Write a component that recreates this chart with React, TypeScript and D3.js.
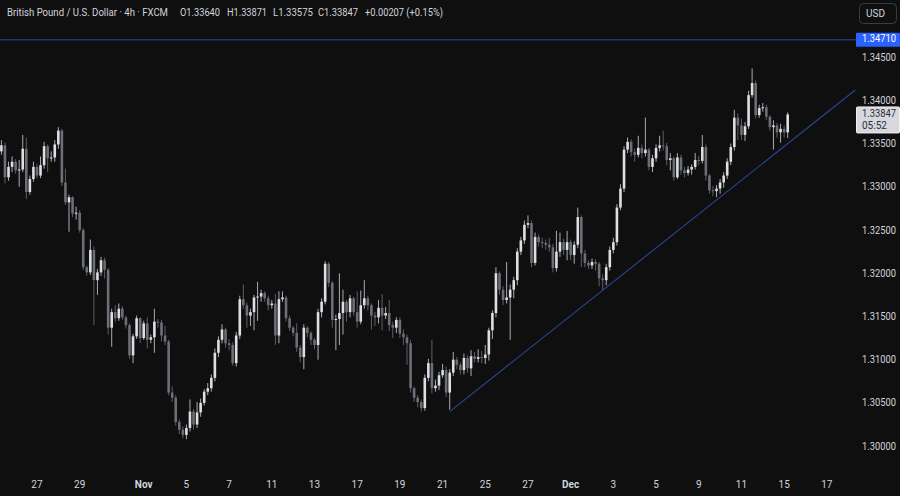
import React from "react";
import * as d3 from "d3";

// ---- Data (GBP/USD 4h, FXCM) ----
const firstOpen = 1.3342;
const closes = [
  1.3349, 1.3312, 1.3324, 1.3330, 1.3320, 1.3321, 1.3345, 1.3295, 1.3310, 1.3324,
  1.3314, 1.3326, 1.3348, 1.3334, 1.3335, 1.3350, 1.3366, 1.3306, 1.3283, 1.3289,
  1.3270, 1.3271, 1.3251, 1.3208, 1.3202, 1.3228, 1.3193, 1.3202, 1.3216, 1.3205,
  1.3138, 1.3156, 1.3149, 1.3160, 1.3150, 1.3141, 1.3106, 1.3128, 1.3149, 1.3126,
  1.3143, 1.3124, 1.3127, 1.3145, 1.3144, 1.3129, 1.3122, 1.3063, 1.3057, 1.3029,
  1.3020, 1.3014, 1.3022, 1.3041, 1.3026, 1.3040, 1.3051, 1.3064, 1.3068, 1.3080,
  1.3109, 1.3124, 1.3136, 1.3120, 1.3118, 1.3097, 1.3129, 1.3171, 1.3164, 1.3152,
  1.3156, 1.3173, 1.3174, 1.3178, 1.3172, 1.3164, 1.3166, 1.3129, 1.3171, 1.3173,
  1.3149, 1.3138, 1.3132, 1.3115, 1.3104, 1.3138, 1.3132, 1.3124, 1.3118, 1.3156,
  1.3168, 1.3212, 1.3190, 1.3147, 1.3148, 1.3155, 1.3168, 1.3156, 1.3172, 1.3156,
  1.3145, 1.3164, 1.3172, 1.3164, 1.3152, 1.3150, 1.3161, 1.3152, 1.3155, 1.3141,
  1.3138, 1.3147, 1.3131, 1.3127, 1.3120, 1.3068, 1.3057, 1.3052, 1.3045, 1.3080,
  1.3097, 1.3068, 1.3071, 1.3083, 1.3089, 1.3063, 1.3086, 1.3101, 1.3095, 1.3089,
  1.3103, 1.3091, 1.3105, 1.3102, 1.3104, 1.3103, 1.3107, 1.3135, 1.3155, 1.3201,
  1.3182, 1.3170, 1.3173, 1.3182, 1.3193, 1.3226, 1.3239, 1.3257, 1.3259, 1.3213,
  1.3243, 1.3237, 1.3236, 1.3234, 1.3231, 1.3207, 1.3226, 1.3237, 1.3228, 1.3237,
  1.3222, 1.3234, 1.3266, 1.3224, 1.3213, 1.3210, 1.3214, 1.3212, 1.3195, 1.3193,
  1.3208, 1.3228, 1.3237, 1.3277, 1.3299, 1.3344, 1.3353, 1.3341, 1.3338, 1.3346,
  1.3340, 1.3344, 1.3324, 1.3334, 1.3346, 1.3349, 1.3348, 1.3332, 1.3334, 1.3312,
  1.3335, 1.3320, 1.3317, 1.3321, 1.3324, 1.3332, 1.3331, 1.3347, 1.3314, 1.3297,
  1.3296, 1.3299, 1.3306, 1.3314, 1.3330, 1.3347, 1.3381, 1.3372, 1.3361, 1.3371,
  1.3407, 1.3421, 1.3384, 1.3392, 1.3393, 1.3382, 1.3370, 1.3372, 1.3364, 1.3368,
  1.3364, 1.33847,
];
const highs = [
  1.3355, 1.3352, 1.3330, 1.3336, 1.3333, 1.3332, 1.3361, 1.3358, 1.3314, 1.3330,
  1.3327, 1.3336, 1.3353, 1.3350, 1.3342, 1.3355, 1.3370, 1.3368, 1.3322, 1.3292,
  1.3290, 1.3278, 1.3274, 1.3253, 1.3210, 1.3240, 1.3232, 1.3206, 1.3220, 1.3219,
  1.3207, 1.3160, 1.3164, 1.3166, 1.3163, 1.3152, 1.3143, 1.3131, 1.3152, 1.3150,
  1.3146, 1.3150, 1.3130, 1.3160, 1.3148, 1.3147, 1.3140, 1.3124, 1.3070, 1.3060,
  1.3032, 1.3024, 1.3026, 1.3055, 1.3044, 1.3052, 1.3056, 1.3067, 1.3074, 1.3084,
  1.3114, 1.3128, 1.3142, 1.3138, 1.3125, 1.3121, 1.3133, 1.3175, 1.3188, 1.3167,
  1.3160, 1.3176, 1.3191, 1.3182, 1.3180, 1.3175, 1.3170, 1.3177, 1.3180, 1.3180,
  1.3175, 1.3152, 1.3140, 1.3143, 1.3118, 1.3142, 1.3140, 1.3134, 1.3126, 1.3160,
  1.3172, 1.3215, 1.3214, 1.3192, 1.3153, 1.3201, 1.3182, 1.3170, 1.3176, 1.3174,
  1.3180, 1.3181, 1.3193, 1.3175, 1.3166, 1.3156, 1.3170, 1.3177, 1.3162, 1.3170,
  1.3145, 1.3150, 1.3150, 1.3136, 1.3130, 1.3124, 1.3070, 1.3060, 1.3055, 1.3084,
  1.3102, 1.3124, 1.3078, 1.3087, 1.3096, 1.3093, 1.3090, 1.3110, 1.3104, 1.3098,
  1.3108, 1.3106, 1.3112, 1.3110, 1.3113, 1.3111, 1.3118, 1.3138, 1.3158, 1.3208,
  1.3203, 1.3186, 1.3214, 1.3188, 1.3197, 1.3230, 1.3243, 1.3262, 1.3268, 1.3262,
  1.3248, 1.3246, 1.3242, 1.3240, 1.3242, 1.3235, 1.3250, 1.3248, 1.3241, 1.3250,
  1.3240, 1.3238, 1.3277, 1.3268, 1.3228, 1.3216, 1.3218, 1.3217, 1.3214, 1.3200,
  1.3212, 1.3232, 1.3242, 1.3281, 1.3304, 1.3348, 1.3358, 1.3356, 1.3345, 1.3360,
  1.3350, 1.3381, 1.3346, 1.3338, 1.3350, 1.3360, 1.3366, 1.3352, 1.3340, 1.3336,
  1.3340, 1.3338, 1.3324, 1.3325, 1.3327, 1.3340, 1.3337, 1.3361, 1.3350, 1.3316,
  1.3302, 1.3303, 1.3310, 1.3318, 1.3334, 1.3351, 1.3390, 1.3386, 1.3380, 1.3376,
  1.3412, 1.3438, 1.3424, 1.3396, 1.3398, 1.3396, 1.3384, 1.3378, 1.3375, 1.3374,
  1.3372, 1.33871,
];
const lows = [
  1.3338, 1.3305, 1.3308, 1.3318, 1.3316, 1.3301, 1.3318, 1.3287, 1.3292, 1.3307,
  1.3311, 1.3311, 1.3322, 1.3318, 1.3330, 1.3330, 1.3345, 1.3302, 1.3280, 1.3249,
  1.3266, 1.3263, 1.3248, 1.3205, 1.3198, 1.3199, 1.3141, 1.3176, 1.3198, 1.3195,
  1.3130, 1.3116, 1.3145, 1.3146, 1.3147, 1.3137, 1.3102, 1.3097, 1.3125, 1.3120,
  1.3124, 1.3114, 1.3120, 1.3109, 1.3138, 1.3122, 1.3118, 1.3060, 1.3052, 1.3025,
  1.3015, 1.3010, 1.3009, 1.3018, 1.3020, 1.3022, 1.3035, 1.3048, 1.3060, 1.3064,
  1.3076, 1.3104, 1.3120, 1.3115, 1.3112, 1.3094, 1.3093, 1.3125, 1.3160, 1.3138,
  1.3140, 1.3135, 1.3146, 1.3168, 1.3168, 1.3158, 1.3160, 1.3118, 1.3120, 1.3168,
  1.3145, 1.3134, 1.3128, 1.3110, 1.3098, 1.3090, 1.3127, 1.3118, 1.3113, 1.3101,
  1.3150, 1.3165, 1.3185, 1.3138, 1.3112, 1.3118, 1.3130, 1.3145, 1.3150, 1.3152,
  1.3138, 1.3142, 1.3160, 1.3158, 1.3136, 1.3140, 1.3143, 1.3135, 1.3148, 1.3134,
  1.3126, 1.3132, 1.3126, 1.3118, 1.3095, 1.3063, 1.3052, 1.3046, 1.3041, 1.3042,
  1.3076, 1.3062, 1.3064, 1.3066, 1.3080, 1.3058, 1.3043, 1.3082, 1.3090, 1.3084,
  1.3084, 1.3086, 1.3082, 1.3098, 1.3098, 1.3097, 1.3096, 1.3100, 1.3125, 1.3150,
  1.3176, 1.3164, 1.3166, 1.3124, 1.3172, 1.3187, 1.3222, 1.3235, 1.3253, 1.3208,
  1.3210, 1.3232, 1.3230, 1.3228, 1.3226, 1.3202, 1.3203, 1.3220, 1.3222, 1.3216,
  1.3216, 1.3212, 1.3230, 1.3208, 1.3208, 1.3206, 1.3206, 1.3204, 1.3186, 1.3181,
  1.3187, 1.3204, 1.3224, 1.3233, 1.3274, 1.3295, 1.3340, 1.3336, 1.3330, 1.3335,
  1.3334, 1.3336, 1.3320, 1.3318, 1.3330, 1.3342, 1.3343, 1.3326, 1.3320, 1.3308,
  1.3310, 1.3315, 1.3312, 1.3314, 1.3315, 1.3321, 1.3326, 1.3328, 1.3308, 1.3293,
  1.3290, 1.3289, 1.3293, 1.3300, 1.3310, 1.3326, 1.3343, 1.3355, 1.3355, 1.3354,
  1.3368, 1.3404, 1.3380, 1.3381, 1.3388, 1.3378, 1.3366, 1.3344, 1.3358, 1.3352,
  1.3358, 1.33575,
];

// x-axis: label text and trading-day offset from Oct 27 (6 bars per day, Oct 27 = bar 10)
const dateLabels = ["27", "29", "Nov", "5", "7", "11", "13", "17", "19", "21", "25", "27", "Dec", "3", "5", "9", "11", "15", "17"];
const dayOffsets = [0, 2, 5, 7, 9, 11, 13, 15, 17, 19, 21, 23, 25, 27, 29, 31, 33, 35, 37];
const firstDayBar = 10;
const barsPerDay = 6;

const priceTicks = [1.345, 1.34, 1.335, 1.33, 1.325, 1.32, 1.315, 1.31, 1.305, 1.3];
const resistance = 1.3471;
const trendBars = [126, 240];
const trendPrices = [1.3041, 1.3413];

const header = {
  title: "British Pound / U.S. Dollar · 4h · FXCM",
  o: "O1.33640",
  h: "H1.33871",
  l: "L1.33575",
  c: "C1.33847",
  chg: "+0.00207 (+0.15%)",
};
const countdown = "05:52";

const W = 900;
const H = 496;
const plotRight = 856;

export default function App() {
  React.useEffect(() => {
    document.body.style.margin = "0";
    document.body.style.background = "#0f0f0f";
  }, []);

  const x = d3.scaleLinear().domain([0, 221]).range([1.4, 787.7]);
  const y = d3.scaleLinear().domain([1.3, 1.345]).range([447, 58]);
  const fmt = d3.format(".5f");

  const opens = closes.map((_, i) => (i === 0 ? firstOpen : closes[i - 1]));
  const bw = 2.6;
  const upBody = "#dedfe1";
  const downBody = "#6c6f77";
  const upWick = "#a9abb0";
  const downWick = "#5c5f67";

  const last = closes[closes.length - 1];
  const font = "Roboto, 'Noto Sans', sans-serif";
  const txt = "#d1d4dc";

  const line = d3
    .line<number>()
    .x((_, i) => x(trendBars[i]))
    .y((p) => y(p));

  return (
    <svg
      width={W}
      height={H}
      style={{ position: "fixed", left: 0, top: 0, background: "#0f0f0f", display: "block" }}
    >
      <rect x={0} y={0} width={W} height={H} fill="#0f0f0f" />
      <defs>
        <clipPath id="plot">
          <rect x={0} y={0} width={plotRight} height={H - 30} />
        </clipPath>
      </defs>

      <g clipPath="url(#plot)">
        {closes.map((c, i) => {
          const o = opens[i];
          const up = c >= o;
          const cx = x(i);
          const top = y(Math.max(o, c));
          const bot = y(Math.min(o, c));
          const hi = Math.max(highs[i], o, c);
          const lo = Math.min(lows[i], o, c);
          return (
            <g key={i}>
              <line
                x1={cx}
                x2={cx}
                y1={y(hi)}
                y2={y(lo)}
                stroke={up ? upWick : downWick}
                strokeWidth={1}
              />
              <rect
                x={cx - bw / 2}
                y={top}
                width={bw}
                height={Math.max(1, bot - top)}
                fill={up ? upBody : downBody}
              />
            </g>
          );
        })}
        <line
          x1={0}
          x2={plotRight}
          y1={y(resistance)}
          y2={y(resistance)}
          stroke="#2b4bb0"
          strokeWidth={1}
        />
        <path d={line(trendPrices) || ""} stroke="#2a4596" strokeWidth={1.1} fill="none" />
      </g>

      {/* header */}
      <g fontFamily={font} fontSize={10.5} fill={txt}>
        <text x={7} y={16} textLength={161} lengthAdjust="spacingAndGlyphs">{header.title}</text>
        <text x={180} y={16} textLength={40} lengthAdjust="spacingAndGlyphs">{header.o}</text>
        <text x={227} y={16} textLength={40} lengthAdjust="spacingAndGlyphs">{header.h}</text>
        <text x={273} y={16} textLength={40} lengthAdjust="spacingAndGlyphs">{header.l}</text>
        <text x={318} y={16} textLength={40} lengthAdjust="spacingAndGlyphs">{header.c}</text>
        <text x={365} y={16} textLength={78} lengthAdjust="spacingAndGlyphs">{header.chg}</text>
      </g>

      {/* USD button */}
      <rect x={859.5} y={3.5} width={37} height={20} rx={4} fill="#0f0f0f" stroke="#3a3c42" />
      <text x={866} y={17} fontFamily={font} fontSize={10} fill={txt}>USD</text>

      {/* price axis */}
      <g fontFamily={font} fontSize={10} fill={txt}>
        {priceTicks.map((p) => (
          <text key={p} x={862} y={y(p)} dominantBaseline="middle" textLength={34} lengthAdjust="spacingAndGlyphs">
            {fmt(p)}
          </text>
        ))}
      </g>

      {/* resistance label */}
      <rect x={856} y={y(resistance) - 7} width={44} height={14} fill="#2962ff" rx={1} />
      <text
        x={862}
        y={y(resistance)}
        dominantBaseline="middle"
        fontFamily={font}
        fontSize={10}
        fill="#ffffff"
        textLength={34}
        lengthAdjust="spacingAndGlyphs"
      >
        {fmt(resistance)}
      </text>

      {/* last price label */}
      <rect x={856.5} y={y(last) - 7.5} width={43} height={26} fill="#d6d8de" stroke="#f0f0f2" rx={1} />
      <text
        x={862}
        y={y(last)}
        dominantBaseline="middle"
        fontFamily={font}
        fontSize={10}
        fill="#2a2e39"
        textLength={34}
        lengthAdjust="spacingAndGlyphs"
      >
        {fmt(last)}
      </text>
      <text x={862} y={y(last) + 12} dominantBaseline="middle" fontFamily={font} fontSize={10} fill="#2a2e39">
        {countdown}
      </text>

      {/* time axis */}
      <g fontFamily={font} fontSize={10} fill={txt} textAnchor="middle">
        {dateLabels.map((lab, i) => {
          const isMonth = lab === "Nov" || lab === "Dec";
          return (
            <text
              key={i}
              x={x(firstDayBar + barsPerDay * dayOffsets[i])}
              y={485}
              dominantBaseline="middle"
              fontWeight={isMonth ? 700 : 400}
            >
              {lab}
            </text>
          );
        })}
      </g>
    </svg>
  );
}
